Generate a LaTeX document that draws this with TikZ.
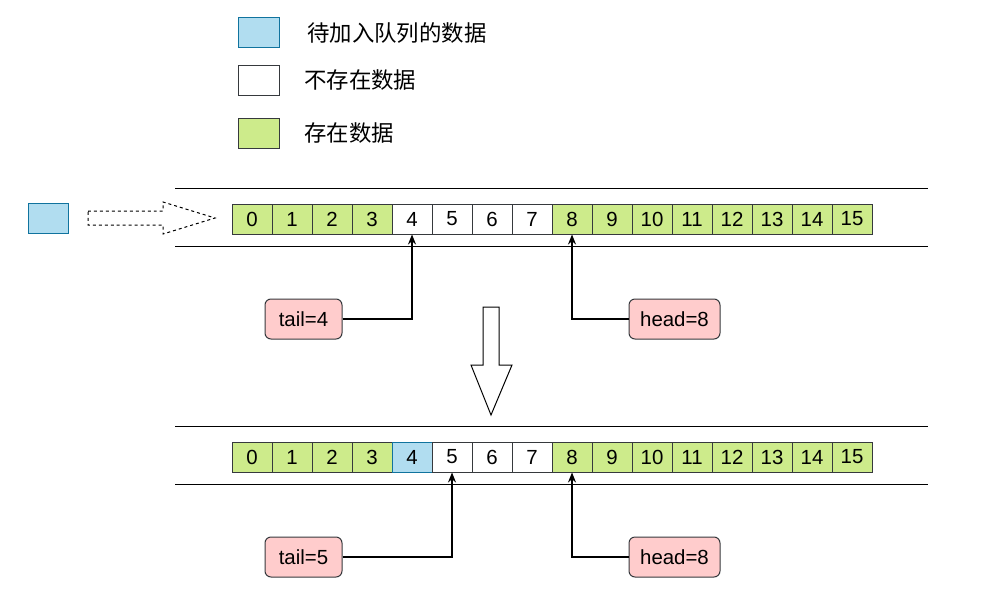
\documentclass[tikz,border=0pt]{standalone}
\usepackage{fontspec}
\setmainfont{Liberation Sans}
\newfontfamily\cjk{Noto Sans CJK SC}
\usepackage{tikz}
\usetikzlibrary{arrows.meta,shapes}

\definecolor{datagreen}{HTML}{CDEB8B}
\definecolor{newblue}{HTML}{B1DDF0}
\definecolor{blueline}{HTML}{10739E}
\definecolor{ptrred}{HTML}{FFCCCC}
\definecolor{darkline}{HTML}{36393D}

\tikzset{
  cell/.style={draw=darkline,line width=1bp,minimum width=40bp,minimum height=30bp,inner sep=0pt,font=\fontsize{20.5}{22}\selectfont},
  full/.style={cell,fill=datagreen},
  empty/.style={cell,fill=white},
  added/.style={cell,draw=blueline,fill=newblue},
  pointer/.style={draw=darkline,line width=1bp,fill=ptrred,rounded corners=6bp,minimum height=40bp,inner sep=0pt,font=\fontsize{20.5}{22}\selectfont},
  legendtext/.style={anchor=west,inner sep=0pt,font=\cjk\fontsize{22.5}{24}\selectfont},
  link/.style={-{Stealth[length=10bp,width=8bp]},line width=1.1bp}
}

\begin{document}
\begin{tikzpicture}
\useasboundingbox (0bp,0bp) rectangle (1003bp,-608bp);

% legend
\node (L1) at (258.5bp,-32bp)[added,minimum width=41bp] {};
\node (L2) at (258.5bp,-80bp)[empty,minimum width=41bp] {};
\node (L3) at (258.5bp,-133bp)[full,minimum width=41bp] {};
\node (L1t) at (307bp,-33bp)[legendtext] {待加入队列的数据};
\node (L2t) at (304bp,-80bp)[legendtext] {不存在数据};
\node (L3t) at (304bp,-133bp)[legendtext] {存在数据};

% element waiting to enter
\node (new) at (48bp,-218bp)[added] {};
\draw [dashed,line width=1bp] (88bp,-211bp) -- (163bp,-211bp) -- (163bp,-202bp) -- (215bp,-218bp) -- (163bp,-234bp) -- (163bp,-225bp) -- (88bp,-225bp) -- cycle;

% queue before
\draw [line width=1bp] (175bp,-188bp) -- (928bp,-188bp);
\draw [line width=1bp] (175bp,-246bp) -- (928bp,-246bp);
\node (T0) at (252bp,-219bp)[full] {0};
\node (T1) at (292bp,-219bp)[full] {1};
\node (T2) at (332bp,-219bp)[full] {2};
\node (T3) at (372bp,-219bp)[full] {3};
\node (T4) at (412bp,-219bp)[empty] {4};
\node (T5) at (452bp,-219bp)[empty] {5};
\node (T6) at (492bp,-219bp)[empty] {6};
\node (T7) at (532bp,-219bp)[empty] {7};
\node (T8) at (572bp,-219bp)[full] {8};
\node (T9) at (612bp,-219bp)[full] {9};
\node (T10) at (652bp,-219bp)[full] {10};
\node (T11) at (692bp,-219bp)[full] {11};
\node (T12) at (732bp,-219bp)[full] {12};
\node (T13) at (772bp,-219bp)[full] {13};
\node (T14) at (812bp,-219bp)[full] {14};
\node (T15) at (852bp,-219bp)[full] {15};

\node (tailA) at (303.5bp,-319bp)[pointer,minimum width=77bp] {tail=4};
\node (headA) at (674.5bp,-319bp)[pointer,minimum width=91bp] {head=8};
\draw [link] (tailA.east) -| (T4.south);
\draw [link] (headA.west) -| (T8.south);

% step arrow
\draw [line width=1bp] (483bp,-307bp) -- (499bp,-307bp) -- (499bp,-365bp) -- (512bp,-365bp) -- (491bp,-415bp) -- (471bp,-365bp) -- (483bp,-365bp) -- cycle;

% queue after
\draw [line width=1bp] (175bp,-426bp) -- (928bp,-426bp);
\draw [line width=1bp] (175bp,-484bp) -- (928bp,-484bp);
\node (B0) at (252bp,-457bp)[full] {0};
\node (B1) at (292bp,-457bp)[full] {1};
\node (B2) at (332bp,-457bp)[full] {2};
\node (B3) at (372bp,-457bp)[full] {3};
\node (B4) at (412bp,-457bp)[added] {4};
\node (B5) at (452bp,-457bp)[empty] {5};
\node (B6) at (492bp,-457bp)[empty] {6};
\node (B7) at (532bp,-457bp)[empty] {7};
\node (B8) at (572bp,-457bp)[full] {8};
\node (B9) at (612bp,-457bp)[full] {9};
\node (B10) at (652bp,-457bp)[full] {10};
\node (B11) at (692bp,-457bp)[full] {11};
\node (B12) at (732bp,-457bp)[full] {12};
\node (B13) at (772bp,-457bp)[full] {13};
\node (B14) at (812bp,-457bp)[full] {14};
\node (B15) at (852bp,-457bp)[full] {15};

\node (tailB) at (303.5bp,-557bp)[pointer,minimum width=77bp] {tail=5};
\node (headB) at (674.5bp,-557bp)[pointer,minimum width=91bp] {head=8};
\draw [link] (tailB.east) -| (B5.south);
\draw [link] (headB.west) -| (B8.south);
\end{tikzpicture}
\end{document}
